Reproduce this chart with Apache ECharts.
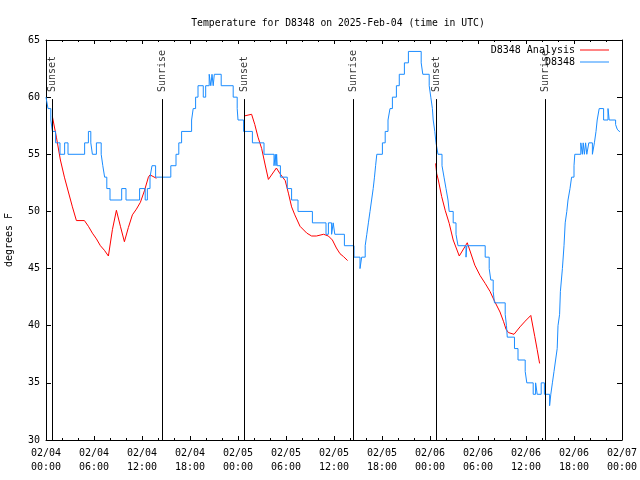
<!DOCTYPE html>
<html>
<head>
<meta charset="utf-8">
<script src="https://cdn.jsdelivr.net/npm/echarts@6/dist/echarts.min.js"></script>
<style>html,body{margin:0;padding:0;background:#fff;}#chart{width:640px;height:480px;}</style>
</head>
<body>
<div id="chart"></div>
<script>
// ---- data (hours since 2025-02-04 00:00 UTC, degrees F) ----
var xTickLabels = ['02/04\n00:00','02/04\n06:00','02/04\n12:00','02/04\n18:00','02/05\n00:00','02/05\n06:00','02/05\n12:00','02/05\n18:00','02/06\n00:00','02/06\n06:00','02/06\n12:00','02/06\n18:00','02/07\n00:00'];
var yTicks = [30,35,40,45,50,55,60,65];
var sunTimes = [0.79, 14.54, 24.8, 38.42, 48.8, 62.42];
var sunLabels = ['Sunset','Sunrise','Sunset','Sunrise','Sunset','Sunrise'];

// observations: [hour the value starts, temperature]
var observed = [[0.0,60],[0.25,59],[0.6,58],[0.8,57],[1.2,56],[1.75,55],[2.33,56],[2.75,55],[4.83,56],[5.3,57],[5.6,56],[5.8,55],[6.3,56],[6.9,55],[7.1,54],[7.33,53],[7.6,52],[8.0,51],[9.46,52],[10.0,51],[11.7,52],[12.4,51],[12.67,52],[13.0,53],[13.25,54],[13.7,53],[15.6,54],[16.25,55],[16.6,56],[16.95,57],[18.2,58],[18.4,59],[18.7,60],[19.0,61],[19.66,60],[19.96,61],[20.4,62],[20.6,61],[20.75,62],[20.9,61],[21.04,62],[21.9,61],[23.4,60],[23.9,59],[24.0,58],[24.7,57],[25.8,56],[27.25,55],[28.5,54],[28.66,55],[28.75,54],[28.83,55],[28.9,54],[29.3,53],[30.16,52],[30.7,51],[31.5,50],[33.3,49],[35.0,48],[35.3,49],[35.7,48],[35.9,49],[36.1,48],[37.3,47],[38.5,46],[39.25,45],[39.46,46],[39.9,47],[40.1,48],[40.3,49],[40.5,50],[40.7,51],[40.9,52],[41.06,53],[41.2,54],[41.35,55],[42.05,56],[42.4,57],[42.75,58],[43.0,59],[43.3,60],[43.8,61],[44.16,62],[44.8,63],[45.3,64],[46.9,63],[47.1,62],[47.9,61],[48.1,60],[48.3,59],[48.4,58],[48.6,57],[48.75,56],[49.0,55],[49.5,54],[49.75,53],[50.0,52],[50.25,51],[50.4,50],[50.9,49],[51.25,48],[51.5,47],[52.5,46],[52.6,47],[54.9,46],[55.4,45],[55.6,44],[55.9,43],[56.06,42],[57.4,41],[57.56,40],[57.66,39],[58.56,38],[59.0,37],[59.9,36],[60.1,35],[60.9,34],[61.2,35],[61.4,34],[61.9,35],[62.3,34],[62.95,33],[63.1,34],[63.3,35],[63.5,36],[63.7,37],[63.9,38],[64.0,40],[64.2,41],[64.3,43],[64.55,45],[64.75,47],[64.9,49],[65.1,50],[65.25,51],[65.5,52],[65.7,53],[66.0,54],[66.1,55],[66.85,56],[67.05,55],[67.15,56],[67.3,55],[67.45,56],[67.6,55],[67.85,56],[68.3,55],[68.55,56],[68.75,57],[68.9,58],[69.15,59],[69.7,58],[70.25,59],[70.4,58],[71.2,57.6],[71.4,57.2],[71.65,57],[71.75,57]];

// analysis, three night-time segments
var analysis1 = [[0.8,58.3],[1.3,56.5],[1.8,54.5],[2.3,53.0],[2.8,51.7],[3.3,50.4],[3.8,49.2],[4.8,49.2],[5.3,48.7],[5.8,48.1],[6.3,47.6],[6.8,47.0],[7.3,46.6],[7.8,46.1],[8.3,48.4],[8.8,50.1],[9.3,48.7],[9.8,47.35],[10.3,48.6],[10.8,49.7],[11.3,50.2],[11.8,50.8],[12.3,51.8],[12.8,53.0],[13.0,53.2],[13.8,52.9]];
var analysis2 = [[24.75,58.35],[25.7,58.5],[26.1,57.6],[26.5,56.5],[26.96,55.5],[27.4,54.06],[27.8,52.8],[28.8,53.8],[29.25,53.3],[29.9,52.7],[30.3,51.6],[30.7,50.4],[31.1,49.7],[31.75,48.7],[32.6,48.1],[33.2,47.85],[33.8,47.85],[34.7,48.0],[35.3,47.85],[35.8,47.5],[36.3,46.8],[36.75,46.3],[37.2,46.04],[37.7,45.7]];
var analysis3 = [[48.7,54.2],[48.84,53.3],[49.04,52.75],[49.46,51.3],[49.9,50.1],[50.4,48.96],[50.9,47.5],[51.66,46.1],[52.66,47.26],[53.6,45.3],[54.25,44.4],[54.9,43.7],[55.5,43.0],[56.1,42.1],[56.75,41.2],[57.2,40.35],[57.5,39.7],[57.8,39.4],[58.5,39.25],[59.25,39.9],[59.9,40.4],[60.6,40.9],[61.1,39.04],[61.4,37.9],[61.7,36.7]];

// ---- chart ----
var FONT = 'DejaVu Sans Mono';
var SUN_LINE_TOP = 59.83;
var SUN_LABEL_AT = 60.45;
var analysis = analysis1.concat([[19,'-']], analysis2, [[43,'-']], analysis3);
var LEG_ICON = 'path://M0,0 L30,0 L30,1 L0,1 Z';

var chart = echarts.init(document.getElementById('chart'), null, {renderer:'canvas'});
var axisCommonX = {
  type:'value', min:0, max:72, interval:6,
  axisLine:{show:true, onZero:false, lineStyle:{color:'#000', width:1}},
  axisTick:{show:true, inside:true, length:4, lineStyle:{color:'#000'}},
  minorTick:{show:true, splitNumber:3, length:2, lineStyle:{color:'#000'}},
  splitLine:{show:false}, minorSplitLine:{show:false}
};
var axisCommonY = {
  type:'value', min:30, max:65, interval:5,
  axisLine:{show:true, onZero:false, lineStyle:{color:'#000', width:1}},
  axisTick:{show:true, inside:true, length:5, lineStyle:{color:'#000'}},
  splitLine:{show:false}
};
var legendText = {fontFamily:FONT, fontSize:10, color:'#000'};
var option = {
  animation:false,
  backgroundColor:'#fff',
  title:{text:'Temperature for D8348 on 2025-Feb-04 (time in UTC)', left:333, top:13, textAlign:'center',
    textStyle:{fontFamily:FONT, fontSize:9.75, fontWeight:'normal', color:'#000'}},
  legend:[
    {data:[{name:'D8348 Analysis', icon:LEG_ICON}], orient:'vertical', right:26, top:40, align:'right', itemWidth:29, itemHeight:1.2, textStyle:legendText},
    {data:[{name:'D8348', icon:LEG_ICON}], orient:'vertical', right:26, top:52, align:'right', itemWidth:29, itemHeight:1.2, textStyle:legendText}
  ],
  grid:{left:46, right:18, top:40, bottom:40, outerBoundsMode:'none', containLabel:false},
  xAxis:[
    Object.assign({}, axisCommonX, {position:'bottom',
      axisLabel:{formatter:function(v){return xTickLabels[Math.round(v/6)];}, fontFamily:FONT, fontSize:10, color:'#000', lineHeight:14, margin:6}}),
    Object.assign({}, axisCommonX, {position:'top', axisLabel:{show:false}})
  ],
  yAxis:[
    Object.assign({}, axisCommonY, {position:'left', name:'degrees F', nameLocation:'middle', nameGap:32, nameRotate:90,
      nameTextStyle:{fontFamily:FONT, fontSize:10, color:'#000'},
      axisLabel:{formatter:function(v){return yTicks.indexOf(v)>=0 ? String(v) : '';}, fontFamily:FONT, fontSize:10, color:'#000', margin:6}}),
    Object.assign({}, axisCommonY, {position:'right', axisLabel:{show:false}})
  ],
  series:[
    {name:'sun', type:'line', data:[], xAxisIndex:0, yAxisIndex:0, silent:true,
      markLine:{silent:true, symbol:['none','none'], label:{show:false},
        lineStyle:{color:'#000', width:1, type:'solid'},
        data: sunTimes.map(function(t){return [{coord:[t, SUN_LINE_TOP]}, {coord:[t, 30]}];})}},
    {name:'sunLabels', type:'scatter', symbolSize:0, silent:true, xAxisIndex:0, yAxisIndex:0,
      data: sunTimes.map(function(t,i){return [t, SUN_LABEL_AT, sunLabels[i]];}),
      label:{show:true, position:'inside', rotate:90, align:'left', verticalAlign:'middle',
        formatter:function(p){return p.data[2];}, fontFamily:FONT, fontSize:10, color:'#000'}},
    {name:'D8348 Analysis', type:'line', data:analysis, xAxisIndex:0, yAxisIndex:0, showSymbol:false,
      connectNulls:false, color:'#ff0000', lineStyle:{color:'#ff0000', width:1}},
    {name:'D8348', type:'line', data:observed, step:'end', xAxisIndex:0, yAxisIndex:0, showSymbol:false,
      color:'#1a8cff', lineStyle:{color:'#1a8cff', width:1}}
  ]
};
chart.setOption(option);
</script>
</body>
</html>
